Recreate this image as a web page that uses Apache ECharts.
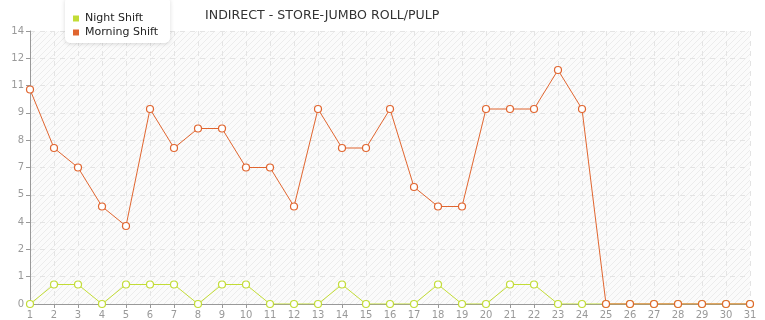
<!DOCTYPE html>
<html><head><meta charset="utf-8">
<script src="https://cdn.jsdelivr.net/npm/echarts@6/dist/echarts.min.js"></script>
<style>html,body{margin:0;padding:0;background:#fff}#c{width:765px;height:320px}</style>
</head><body><div id="c"></div>
<script>
var categories = ['1','2','3','4','5','6','7','8','9','10','11','12','13','14','15','16','17','18','19','20','21','22','23','24','25','26','27','28','29','30','31'];
var nightShift = [0,1,1,0,1,1,1,0,1,1,0,0,0,1,0,0,0,1,0,0,1,1,0,0,0,0,0,0,0,0,0];
var morningShift = [11,8,7,5,4,10,8,9,9,7,7,5,10,8,8,10,6,5,5,10,10,10,12,10,0,0,0,0,0,0,0];

var pc = document.createElement('canvas');
pc.width = 6; pc.height = 6;
var g = pc.getContext('2d');
g.fillStyle = '#fbfbfb'; g.fillRect(0,0,6,6);
g.strokeStyle = '#ececec'; g.lineWidth = 1;
g.beginPath(); g.moveTo(-1,7); g.lineTo(7,-1); g.stroke();
g.beginPath(); g.moveTo(-4,4); g.lineTo(4,-4); g.stroke();
g.beginPath(); g.moveTo(2,10); g.lineTo(10,2); g.stroke();

var NIGHT = '#c2dc36', MORN = '#e0652f';
var chart = echarts.init(document.getElementById('c'), null, {renderer:'canvas'});
var font = 'DejaVu Sans, Verdana, sans-serif';
chart.setOption({
  animation:false,
  title:{text:'INDIRECT - STORE-JUMBO ROLL/PULP', left:205, top:9, padding:0,
    textStyle:{fontFamily:font, fontSize:12.6, fontWeight:'normal', color:'#333'}},
  legend:{orient:'vertical', left:65, top:-3, padding:[16,12,5,8], itemGap:3,
    itemWidth:6, itemHeight:6, icon:'rect',
    backgroundColor:'#fff', borderRadius:5,
    shadowBlur:4, shadowColor:'rgba(0,0,0,0.15)', shadowOffsetY:1,
    textStyle:{fontFamily:font, fontSize:11, color:'#222', padding:[0,0,0,1]},
    data:[{name:'Night Shift', itemStyle:{color:NIGHT, borderWidth:0}},
          {name:'Morning Shift', itemStyle:{color:MORN, borderWidth:0}}]},
  grid:{left:30, right:15, top:31, bottom:14, show:true, borderWidth:0,
    backgroundColor:{image:pc, repeat:'repeat'}},
  xAxis:{type:'category', data:categories, boundaryGap:false,
    axisLine:{lineStyle:{color:'#999'}},
    axisTick:{show:true, length:4, lineStyle:{color:'#999'}},
    axisLabel:{fontFamily:font, fontSize:10, color:'#999', margin:6, interval:0},
    splitLine:{show:true, lineStyle:{color:'#e4e4e4', type:[5,5]}}},
  yAxis:{type:'value', min:0, max:14, interval:1.4,
    axisLine:{show:true, lineStyle:{color:'#999'}},
    axisTick:{show:true, length:4, lineStyle:{color:'#999'}},
    axisLabel:{fontFamily:font, fontSize:10, color:'#999', margin:6,
      formatter:function(v){return Math.floor(Math.round(v*1000)/1000);}},
    splitLine:{show:true, lineStyle:{color:'#e4e4e4', type:[5,5]}}},
  series:[
    {name:'Night Shift', type:'line', data:nightShift,
      symbol:'circle', symbolSize:7, lineStyle:{width:1, color:NIGHT},
      itemStyle:{color:'#fff', borderColor:NIGHT, borderWidth:1.2}},
    {name:'Morning Shift', type:'line', data:morningShift,
      symbol:'circle', symbolSize:7, lineStyle:{width:1, color:MORN},
      itemStyle:{color:'#fff', borderColor:MORN, borderWidth:1.2}}
  ]
});
</script></body></html>
